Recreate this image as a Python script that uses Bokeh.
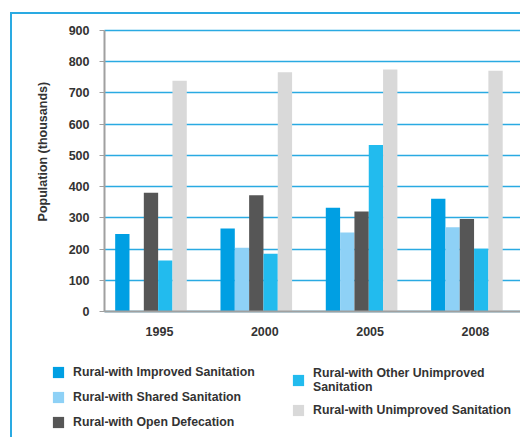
import math
from bokeh.plotting import figure
from bokeh.models import (FixedTicker, Legend, LegendItem, Range1d, ColumnDataSource,
                          InlineStyleSheet, Label)
from bokeh.embed import file_html
from bokeh.resources import INLINE

years = ["1995", "2000", "2005", "2008"]
improved = [248, 266, 332, 361]
shared = [0, 204, 253, 270]
open_defecation = [380, 372, 320, 296]
other_unimproved = [163, 185, 533, 201]
unimproved = [739, 766, 775, 771]
y_ticks = [0, 100, 200, 300, 400, 500, 600, 700, 800, 900]

series_names = [
    "Rural-with Improved Sanitation",
    "Rural-with Shared Sanitation",
    "Rural-with Open Defecation",
    "Rural-with Other Unimproved\nSanitation",
    "Rural-with Unimproved Sanitation",
]
series_values = [improved, shared, open_defecation, other_unimproved, unimproved]
series_colors = ["#009FE3", "#8ED1F6", "#565656", "#22BBEE", "#D9D9D9"]

FONT = "Liberation Sans"
TXT = "#333333"
GRID = "#2AAAE2"
AXIS = "#A0A0A0"
TICK_FS = "12.5px"
LEG_FS = "12.3px"

# whole canvas is the plotting frame; axes are pinned at fixed data locations
X0, X1 = -1.510, 3.428
Y0, Y1 = -403.6, 996.1
AXIS_X = -0.5223

p = figure(width=520, height=437, output_backend="svg", toolbar_location=None,
           x_range=Range1d(X0, X1), y_range=Range1d(Y0, Y1),
           min_border_left=0, min_border_top=0, min_border_right=0, min_border_bottom=0)
p.outline_line_color = None
p.background_fill_color = "white"
p.border_fill_color = "white"

bw = 0.136
shift = -0.081
renderers = []
for k, (vals, col) in enumerate(zip(series_values, series_colors)):
    xs = [i + shift + (k - 2) * bw for i in range(len(years))]
    src = ColumnDataSource(dict(x=xs, top=vals))
    r = p.vbar(x="x", top="top", bottom=0, width=bw, source=src, fill_color=col, line_color=None)
    renderers.append(r)

# grid
p.xgrid.grid_line_color = None
p.ygrid.grid_line_color = GRID
p.ygrid.grid_line_width = 1.6
p.ygrid.ticker = FixedTicker(ticks=y_ticks)
p.ygrid.cross_bounds = (AXIS_X, X1)

# y axis
yax = p.yaxis[0]
yax.fixed_location = AXIS_X
yax.bounds = (0, 900)
yax.ticker = FixedTicker(ticks=y_ticks)
yax.axis_line_color = AXIS
yax.axis_line_width = 2
yax.major_tick_line_color = AXIS
yax.major_tick_out = 5
yax.major_tick_in = 0
yax.minor_tick_line_color = None
yax.major_label_standoff = 10
yax.major_label_text_font = FONT
yax.major_label_text_font_style = "bold"
yax.major_label_text_font_size = TICK_FS
yax.major_label_text_color = TXT

# x axis
xax = p.xaxis[0]
xax.fixed_location = 0
xax.bounds = (AXIS_X, X1)
xax.ticker = FixedTicker(ticks=list(range(len(years))))
xax.major_label_overrides = {i: y for i, y in enumerate(years)}
xax.axis_line_color = AXIS
xax.axis_line_width = 2
xax.major_tick_line_color = None
xax.major_tick_out = 0
xax.major_tick_in = 0
xax.minor_tick_line_color = None
xax.major_label_standoff = 16
xax.major_label_text_font = FONT
xax.major_label_text_font_style = "bold"
xax.major_label_text_font_size = TICK_FS
xax.major_label_text_color = TXT

p.add_layout(Label(x=-1.106, y=512, text="Population (thousands)", angle=math.pi / 2,
                   text_align="center", text_baseline="middle", text_font=FONT,
                   text_font_style="bold", text_font_size=TICK_FS, text_color=TXT))

# outer frame (only left and top edges are within the window)
p.stylesheets = [InlineStyleSheet(css=(
    ":host::after { content: ''; position: absolute; left: 10px; top: 12px; "
    "right: 0px; bottom: 0px; border-left: 2px solid #2AAAE2; "
    "border-top: 2px solid #2AAAE2; pointer-events: none; z-index: 5; }"
))]

def make_legend(idx, loc, spacing):
    items = [LegendItem(label=series_names[i], renderers=[renderers[i]]) for i in idx]
    return Legend(items=items, location=loc, orientation="vertical",
                  glyph_width=14, glyph_height=14, label_standoff=8, spacing=spacing,
                  label_height=20, padding=0, margin=0, border_line_color=None,
                  background_fill_alpha=0, label_text_font=FONT,
                  label_text_font_style="bold", label_text_font_size=LEG_FS,
                  label_text_color=TXT)

p.add_layout(make_legend([0, 1, 2], (51, 5), 5), "center")
p.add_layout(make_legend([3, 4], (291, 17), 6), "center")

open("out.html", "w").write(file_html(p, INLINE))
